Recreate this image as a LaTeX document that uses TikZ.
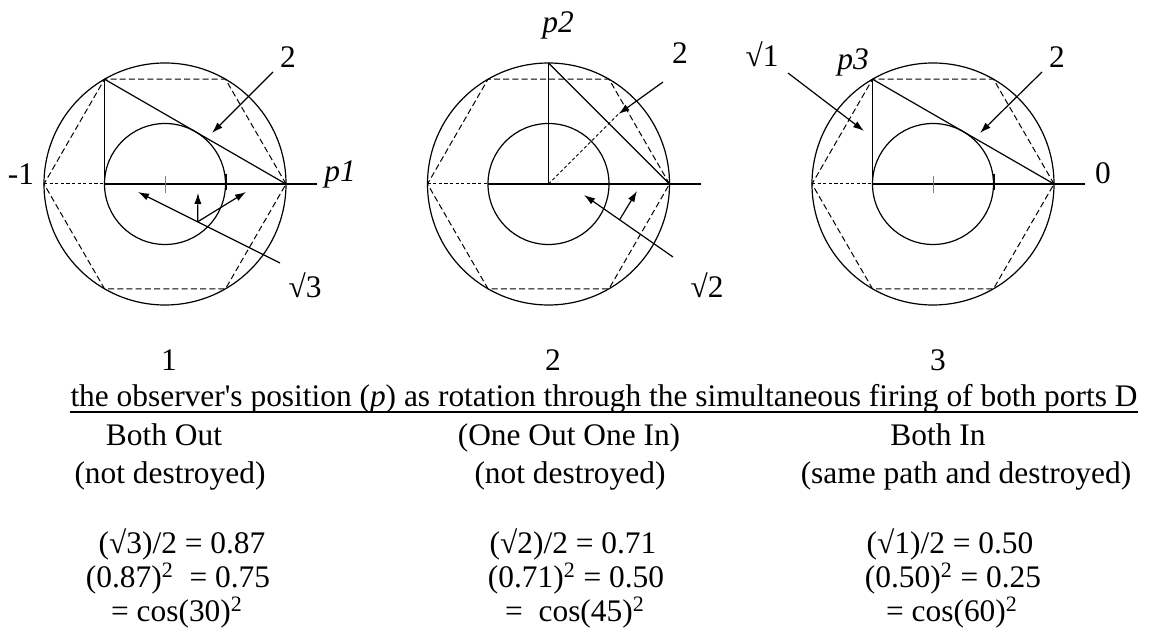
\documentclass[tikz,border=0pt]{standalone}
\usepackage{fontspec}
\setmainfont{Liberation Serif}
\usetikzlibrary{arrows.meta,calc}

\newcommand{\sqmark}{\textbf{√}}

\tikzset{
  rim/.style={line width=0.6pt},
  hexdash/.style={line width=0.5pt, dash pattern=on 3pt off 1.6pt},
  shortdash/.style={line width=0.5pt, dash pattern=on 1.6pt off 1.2pt},
  leader/.style={line width=0.6pt, -{Latex[length=5.5pt,width=3.6pt]}},
  txt/.style={font=\fontsize{15.7}{18}\selectfont, inner sep=0pt},
  row/.style={txt, anchor=base},
}

\begin{document}
\begin{tikzpicture}[x=0.5pt, y=-0.5pt]
  \def\R{121} \def\r{60.5} \def\cy{184} \def\hh{104.8}
  \useasboundingbox (0,0) rectangle (1153,640);

  % rings, dashed hexagon and axis: same in all three
  \foreach \cx/\n in {165/1,548.5/2,933/3} {
    \coordinate (c\n) at (\cx,\cy);
    \coordinate (rv\n) at ({\cx+\R},\cy);
    \coordinate (lv\n) at ({\cx-\R},\cy);
    \coordinate (tl\n) at ({\cx-\R/2},{\cy-\hh});
    \draw[rim] (c\n) circle (\R);
    \draw[rim] (c\n) circle (\r);
    \draw[hexdash] (rv\n) -- ({\cx+\R/2},{\cy-\hh}) -- (tl\n) -- (lv\n)
      -- ({\cx-\R/2},{\cy+\hh}) -- ({\cx+\R/2},{\cy+\hh}) -- cycle;
    \draw[shortdash] (lv\n) -- ({\cx-\r},\cy);
    \draw[rim] ({\cx-\r},\cy) -- ({\cx+\R+31},\cy);
  }

  % 1: both out
  \draw[rim] (tl1) -- (tl1 |- c1);
  \draw[rim] (tl1) -- (rv1);
  \draw[gray, line width=0.5pt] (165,176) -- (165,193);
  \draw[line width=1pt] (225.5,174) -- (225.5,190);
  \node[txt] (neg1) at (21,174) {-1};
  \node[txt] (pa) at (340,174) {\textit{p1}};
  \node[txt] (two1) at (288,57) {2};
  \node[txt] (rt3) at (305,285) {\sqmark3};
  \coordinate (two1s) at (273,72);  \coordinate (two1e) at (212,133);
  \coordinate (rt3s) at (280,263);  \coordinate (rt3e) at (138,192);
  \coordinate (rt3f) at ($(rt3s)!0.58!(rt3e)$);
  \coordinate (up1) at (198,193);   \coordinate (out1) at (246,192);
  \draw[leader] (two1s) -- (two1e);
  \draw[leader] (rt3s) -- (rt3e);
  \draw[leader] (rt3f) -- (up1);
  \draw[leader] (rt3f) -- (out1);

  % 2: one out one in
  \coordinate (top2) at (548.5,{\cy-\R});
  \coordinate (mid2) at (618.5,114);
  \draw[rim] (c2) -- (top2);
  \draw[rim] (top2) -- (rv2);
  \draw[shortdash] (c2) -- (mid2);
  \node[txt] (pb) at (558,25) {\textit{p2}};
  \node[txt] (two2) at (680,53) {2};
  \node[txt] (rt2) at (707,285) {\sqmark2};
  \coordinate (two2s) at (663,82);
  \coordinate (rt2s) at (673,257);  \coordinate (rt2e) at (584,195);
  \coordinate (rt2f) at ($(rt2s)!0.6!(rt2e)$);
  \coordinate (out2) at (637,191);
  \draw[leader] (two2s) -- (mid2);
  \draw[leader] (rt2s) -- (rt2e);
  \draw[leader] (rt2f) -- (out2);

  % 3: both in
  \draw[rim] (tl3) -- (tl3 |- c3);
  \draw[rim] (tl3) -- (rv3);
  \draw[gray, line width=0.5pt] (933,176) -- (933,193);
  \draw[line width=1pt] (993.5,174) -- (993.5,190);
  \node[txt] (rt1) at (762,54) {\sqmark1};
  \node[txt] (pc) at (853,62) {\textit{p3}};
  \node[txt] (two3) at (1057,57) {2};
  \node[txt] (zero) at (1103,173) {0};
  \coordinate (rt1s) at (788,73);   \coordinate (rt1e) at (864,131);
  \coordinate (two3s) at (1042,72); \coordinate (two3e) at (980,133);
  \draw[leader] (rt1s) -- (rt1e);
  \draw[leader] (two3s) -- (two3e);

  % captions
  \node[row] (n1) at (169,371) {1};
  \node[row] (n2) at (553,371) {2};
  \node[row] (n3) at (938,371) {3};
  \node[row] (cap) at (604,407)
    {the observer\textquotesingle s position (\textit{p}) as rotation through the simultaneous firing of both ports D};
  \draw[line width=1pt] ($(cap.base west)+(0,5)$) -- ($(cap.base east)+(0,5)$);

  \node[row] (s1) at (164,446) {Both Out};
  \node[row] (d1) at (170,484) {(not destroyed)};
  \node[row] (s2) at (569,446) {(One Out One In)};
  \node[row] (d2) at (570,484) {(not destroyed)};
  \node[row] (s3) at (938,446) {Both In};
  \node[row] (d3) at (966,484) {(same path and destroyed)};

  % values
  \node[row] (v1a) at (182,554) {(\sqmark3)/2 = 0.87};
  \node[row] (v1b) at (178,588) {(0.87)\textsuperscript{2}\ \ = 0.75};
  \node[row] (v1c) at (177,622) {= cos(30)\textsuperscript{2}};
  \node[row] (v2a) at (573,554) {(\sqmark2)/2 = 0.71};
  \node[row] (v2b) at (576,588) {(0.71)\textsuperscript{2} = 0.50};
  \node[row] (v2c) at (575,622) {=\ \ cos(45)\textsuperscript{2}};
  \node[row] (v3a) at (950,554) {(\sqmark1)/2 = 0.50};
  \node[row] (v3b) at (953,588) {(0.50)\textsuperscript{2} = 0.25};
  \node[row] (v3c) at (952,622) {= cos(60)\textsuperscript{2}};
\end{tikzpicture}
\end{document}
